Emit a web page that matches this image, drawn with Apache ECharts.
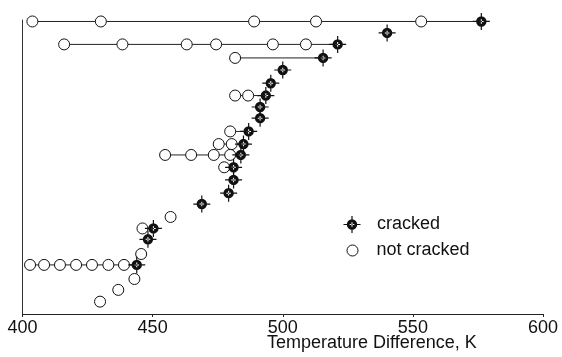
<!DOCTYPE html>
<html>
<head>
<meta charset="utf-8">
<script src="https://cdn.jsdelivr.net/npm/echarts@6/dist/echarts.min.js"></script>
<style>
  html, body { margin: 0; padding: 0; background: #fff; }
  #chart { width: 562px; height: 357px; }
</style>
</head>
<body>
<div id="chart"></div>
<script>
// x = temperature difference (K), y = specimen row (arbitrary, no labels)
const cracked = [
  [576.3, 99.5], [540.1, 95.6], [521.1, 91.7], [515.5, 87.1], [500.0, 83.0],
  [495.4, 78.5], [493.5, 74.3], [491.3, 70.4], [491.3, 66.6], [486.9, 62.1],
  [484.9, 57.8], [483.9, 54.1], [481.1, 49.9], [481.1, 45.6], [479.2, 41.1],
  [468.9, 37.4], [450.3, 29.1], [448.2, 25.4], [443.9, 16.7]
];
const notCracked = [
  [403.8, 99.5], [430.1, 99.5], [489.0, 99.5], [512.8, 99.5], [553.2, 99.5],
  [416.0, 91.7], [438.4, 91.7], [463.1, 91.7], [474.4, 91.7], [496.2, 91.7], [508.9, 91.7],
  [481.7, 87.1],
  [481.7, 74.3], [486.7, 74.3],
  [479.8, 62.1],
  [475.4, 57.8], [480.4, 57.8],
  [454.8, 54.1], [464.8, 54.1], [473.5, 54.1], [479.8, 54.1],
  [477.5, 49.9],
  [456.9, 33.0],
  [446.1, 29.1],
  [445.6, 20.4],
  [402.9, 16.7], [408.3, 16.7], [414.4, 16.7], [420.6, 16.7], [426.7, 16.7], [433.0, 16.7], [439.0, 16.7],
  [443.0, 11.9], [436.8, 8.2], [429.8, 4.2]
];
// horizontal connectors: [from x, to x, row y]
const rowLinks = [
  [403.8, 576.3, 99.5], [416.0, 521.1, 91.7], [481.7, 515.5, 87.1],
  [481.7, 493.5, 74.3], [479.8, 486.9, 62.1], [475.4, 484.9, 57.8],
  [454.8, 483.9, 54.1], [477.5, 481.1, 49.9], [446.1, 450.3, 29.1],
  [402.9, 443.9, 16.7]
];
const xTicks = [400, 450, 500, 550, 600];

// black dot with crosshair arms and a small white cross inside
const crackPath = 'path://M3.3,8.5A5.2,5.2,0,1,1,13.7,8.5A5.2,5.2,0,1,1,3.3,8.5Z' +
  'M0,7.9L3.6,7.9L3.6,9.1L0,9.1Z M13.4,7.9L17,7.9L17,9.1L13.4,9.1Z' +
  'M7.9,0L9.1,0L9.1,3.6L7.9,3.6Z M7.9,13.4L9.1,13.4L9.1,17L7.9,17Z' +
  'M6.2,8L6.2,9L10.8,9L10.8,8Z M8,6.2L8,10.8L9,10.8L9,6.2Z';

const chart = echarts.init(document.getElementById('chart'));

const linkSeries = rowLinks.map(function (r) {
  return {
    type: 'line',
    data: [[r[0], r[2]], [r[1], r[2]]],
    showSymbol: false,
    silent: true,
    z: 1,
    lineStyle: { color: '#222', width: 1 }
  };
});

const legendText = { fontFamily: 'Liberation Sans', fontSize: 18, color: '#111' };

chart.setOption({
  animation: false,
  grid: { left: 22.5, right: 19, top: 20, bottom: 43 },
  legend: [{
    left: 343.5,
    top: 215.5,
    padding: 0,
    itemWidth: 17,
    itemHeight: 17,
    data: ['cracked'],
    textStyle: Object.assign({ padding: [0, 0, 0, 11.5] }, legendText)
  }, {
    left: 346.5,
    top: 241.5,
    padding: 0,
    itemWidth: 11,
    itemHeight: 11,
    data: [{ name: 'not cracked', itemStyle: { borderWidth: 1 } }],
    textStyle: Object.assign({ padding: [0, 0, 0, 13.5] }, legendText)
  }],
  xAxis: {
    type: 'value',
    min: xTicks[0],
    max: xTicks[xTicks.length - 1],
    interval: 50,
    splitLine: { show: false },
    axisLine: { lineStyle: { color: '#222', width: 1 } },
    axisTick: { length: 3, lineStyle: { color: '#222' } },
    axisLabel: { fontFamily: 'Liberation Sans', fontSize: 18, color: '#111', margin: 5 }
  },
  yAxis: {
    type: 'value',
    min: 0,
    max: 100,
    splitLine: { show: false },
    axisLine: { show: true, lineStyle: { color: '#333', width: 1 } },
    axisTick: { show: false },
    axisLabel: { show: false }
  },
  graphic: [{
    type: 'text',
    left: 267,
    top: 334,
    style: { text: 'Temperature Difference, K', fontFamily: 'Liberation Sans', fontSize: 18, fill: '#111' }
  }],
  series: linkSeries.concat([
    {
      name: 'not cracked',
      type: 'scatter',
      data: notCracked,
      symbol: 'circle',
      symbolSize: 11,
      z: 3,
      itemStyle: { color: '#fff', borderColor: '#111', borderWidth: 1, opacity: 1 }
    },
    {
      name: 'cracked',
      type: 'scatter',
      data: cracked,
      symbol: crackPath,
      symbolSize: 17,
      z: 4,
      itemStyle: { color: '#111', opacity: 1 }
    }
  ])
});
</script>
</body>
</html>
